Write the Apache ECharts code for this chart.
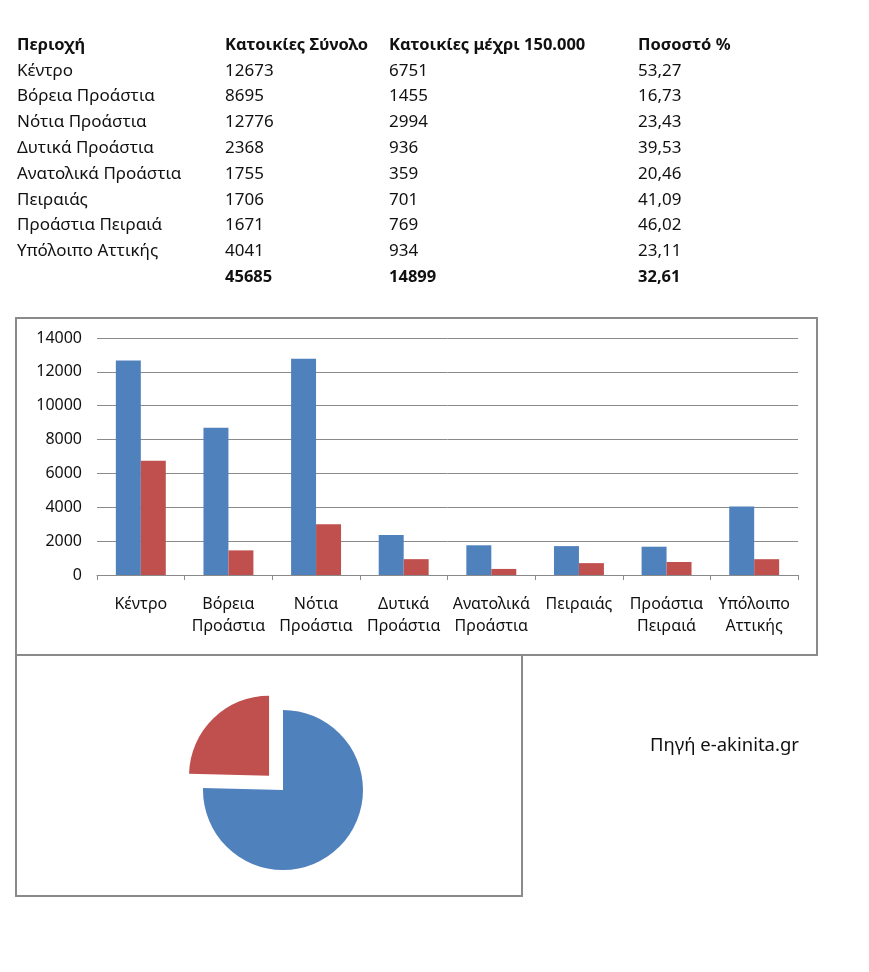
<!DOCTYPE html>
<html><head><meta charset="utf-8">
<script src="https://cdn.jsdelivr.net/npm/echarts@6/dist/echarts.min.js"></script>
<style>html,body{margin:0;padding:0;background:#fff}#c{width:869px;height:972px}</style>
</head><body><div id="c"></div>
<script>
// ---- data ----
const headers = ['Περιοχή', 'Κατοικίες Σύνολο', 'Κατοικίες μέχρι 150.000', 'Ποσοστό %'];
const regions = ['Κέντρο', 'Βόρεια Προάστια', 'Νότια Προάστια', 'Δυτικά Προάστια', 'Ανατολικά Προάστια', 'Πειραιάς', 'Προάστια Πειραιά', 'Υπόλοιπο Αττικής'];
const totalHomes = [12673, 8695, 12776, 2368, 1755, 1706, 1671, 4041];
const homesUpTo150k = [6751, 1455, 2994, 936, 359, 701, 769, 934];
const percentUpTo150k = ['53,27', '16,73', '23,43', '39,53', '20,46', '41,09', '46,02', '23,11'];
const totalsRow = ['', '45685', '14899', '32,61'];
const axisCategories = ['Κέντρο', 'Βόρεια\nΠροάστια', 'Νότια\nΠροάστια', 'Δυτικά\nΠροάστια', 'Ανατολικά\nΠροάστια', 'Πειραιάς', 'Προάστια\nΠειραιά', 'Υπόλοιπο\nΑττικής'];
const yTicks = { min: 0, max: 14000, interval: 2000 };
const pieNames = ['Κατοικίες Σύνολο', 'Κατοικίες μέχρι 150.000'];
const pieValues = [45685, 14899];
const sourceText = 'Πηγή e-akinita.gr';

// ---- styling / layout ----
const FONT = 'Noto Sans';
const BLUE = '#4F81BD', RED = '#C0504D';
const colX = [17, 225, 389, 638];
const rowY0 = 45, rowStep = 25.8;

const graphics = [];
function txt(x, y, s, bold) {
  graphics.push({ type: 'text', x: x, y: y, silent: true,
    style: { text: s, fill: '#111', font: (bold ? 'bold 16.5px ' : '17px ') + '"' + FONT + '"', textVerticalAlign: 'middle' } });
}
headers.forEach((h, j) => txt(colX[j], rowY0, h, true));
regions.forEach((r, i) => {
  const y = rowY0 + (i + 1) * rowStep;
  txt(colX[0], y, r, false);
  txt(colX[1], y, String(totalHomes[i]), false);
  txt(colX[2], y, String(homesUpTo150k[i]), false);
  txt(colX[3], y, percentUpTo150k[i], false);
});
totalsRow.forEach((t, j) => { if (t) txt(colX[j], rowY0 + 9 * rowStep, t, true); });

graphics.push({ type: 'rect', silent: true, shape: { x: 16, y: 318, width: 801, height: 337 },
  style: { fill: 'none', stroke: '#8a8a8a', lineWidth: 2 } });
graphics.push({ type: 'rect', silent: true, shape: { x: 16, y: 655, width: 506, height: 241 },
  style: { fill: 'none', stroke: '#8a8a8a', lineWidth: 2 } });
graphics.push({ type: 'text', x: 650, y: 746, silent: true,
  style: { text: sourceText, fill: '#111', font: '18.5px "' + FONT + '"', textVerticalAlign: 'middle' } });

const chart = echarts.init(document.getElementById('c'), null, { renderer: 'canvas' });
chart.setOption({
  animation: false,
  backgroundColor: '#fff',
  textStyle: { fontFamily: FONT },
  graphic: graphics,
  grid: { left: 97, right: 71, top: 338, bottom: 397 },
  xAxis: {
    type: 'category', data: axisCategories,
    axisLine: { lineStyle: { color: '#8a8a8a', width: 1 } },
    axisTick: { show: true, length: 5, lineStyle: { color: '#8a8a8a' } },
    axisLabel: { color: '#111', fontSize: 16, lineHeight: 22, margin: 18, interval: 0, fontFamily: FONT }
  },
  yAxis: {
    type: 'value', min: yTicks.min, max: yTicks.max, interval: yTicks.interval,
    axisLine: { show: false }, axisTick: { show: false },
    splitLine: { lineStyle: { color: '#8a8a8a', width: 1 } },
    axisLabel: { color: '#111', fontSize: 16, margin: 15, fontFamily: FONT, formatter: v => String(v) }
  },
  series: [
    { type: 'bar', name: headers[1], data: totalHomes, itemStyle: { color: BLUE }, barGap: '0%', barCategoryGap: '43%', silent: true },
    { type: 'bar', name: headers[2], data: homesUpTo150k, itemStyle: { color: RED }, barGap: '0%', barCategoryGap: '43%', silent: true },
    {
      type: 'pie', center: [283, 790], radius: 80, startAngle: 90, clockwise: true,
      selectedMode: 'single', selectedOffset: 20, silent: true,
      label: { show: false }, labelLine: { show: false },
      emphasis: { disabled: true },
      data: [
        { name: pieNames[0], value: pieValues[0], itemStyle: { color: BLUE } },
        { name: pieNames[1], value: pieValues[1], itemStyle: { color: RED }, selected: true }
      ]
    }
  ]
});
</script></body></html>
